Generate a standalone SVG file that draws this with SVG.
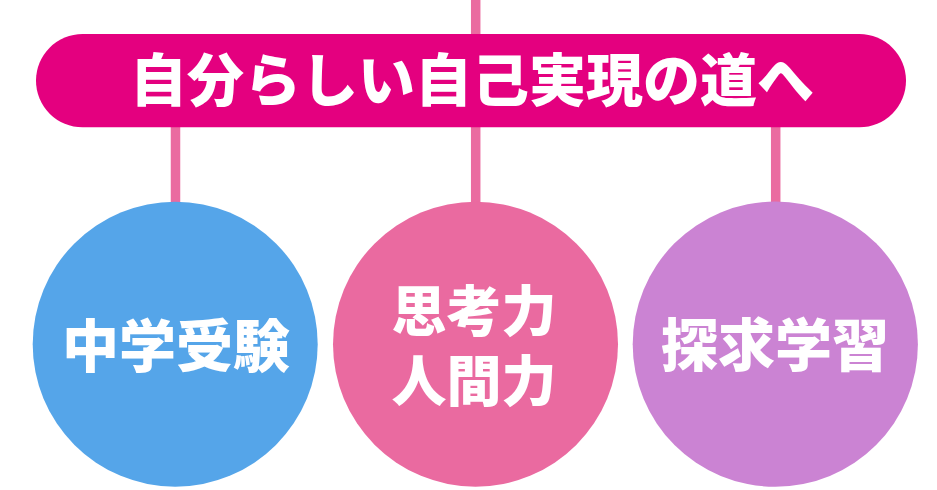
<svg xmlns="http://www.w3.org/2000/svg" width="937" height="490" viewBox="0 0 937 490">
<style>
.conn{stroke:#EA6BA0;stroke-width:9.5;fill:none}
.t{font-family:"Noto Sans CJK JP","Noto Sans CJK SC",sans-serif;font-weight:900;fill:#FFFFFF;text-anchor:middle}
</style>
<rect width="937" height="490" fill="#FFFFFF"/>
<g id="connectors">
<line class="conn" x1="475.7" y1="0" x2="475.7" y2="40"/>
<line class="conn" x1="175.5" y1="120" x2="175.5" y2="210"/>
<line class="conn" x1="475.7" y1="120" x2="475.7" y2="210"/>
<line class="conn" x1="775.7" y1="120" x2="775.7" y2="210"/>
</g>
<g id="banner">
<rect x="36" y="34" width="870" height="93.3" rx="46.6" fill="#E4007F"/>
<text class="t" x="472" y="101" font-size="57">自分らしい自己実現の道へ</text>
</g>
<g id="node-juken">
<circle cx="175.2" cy="344.2" r="142.5" fill="#55A5E9"/>
<text class="t" x="176" y="366.5" font-size="57">中学受験</text>
</g>
<g id="node-shikou">
<circle cx="475.5" cy="344.2" r="142.5" fill="#EA6AA0"/>
<text class="t" font-size="55"><tspan x="474" y="330.5">思考力</tspan><tspan x="474" y="400.5">人間力</tspan></text>
</g>
<g id="node-tankyu">
<circle cx="775.3" cy="344.2" r="142.6" fill="#CB83D3"/>
<text class="t" x="775" y="365.5" font-size="57">探求学習</text>
</g>
</svg>
